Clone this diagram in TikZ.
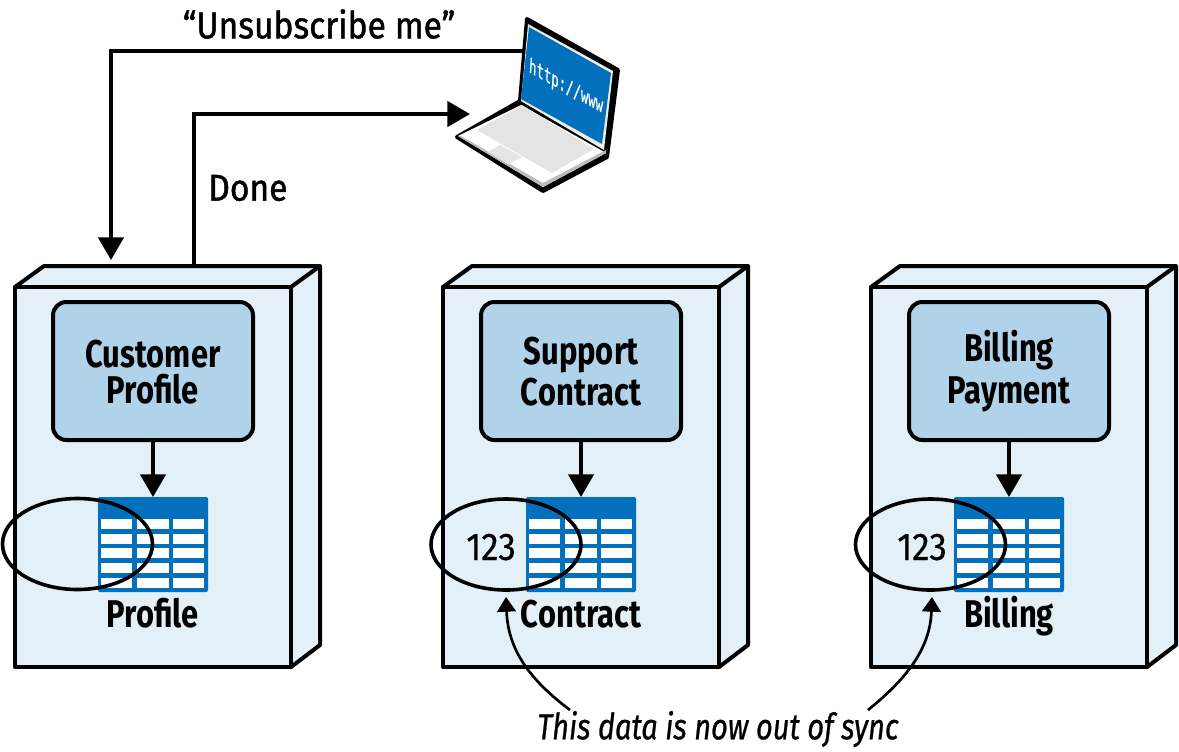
\documentclass[tikz,border=0pt]{standalone}
\usepackage{fontspec}
\setmainfont[FakeStretch=0.8]{Fira Sans}
\newfontfamily\medf[FakeStretch=0.9,FakeBold=1.2]{Fira Sans}
\newfontfamily\numf[FakeStretch=0.9,FakeBold=0.4]{Fira Sans}
\newfontfamily\notef[FakeStretch=0.8,FakeBold=0.7]{Fira Sans}
\newfontfamily\monof[FakeStretch=0.8,FakeBold=0.6]{DejaVu Sans Mono}
\newcommand{\svcstrut}{\rule[-3pt]{0pt}{27pt}}
\usetikzlibrary{arrows.meta,shapes.geometric}
\definecolor{boxfill}{HTML}{E3F0F8}
\definecolor{svcfill}{HTML}{B0D3EA}
\definecolor{tblblue}{HTML}{0270BC}
\definecolor{lapgrey}{HTML}{E4E4E4}
\tikzset{
  x=0.75pt,y=-0.75pt,
  edge/.style={draw=black,line width=3pt,line join=round},
  frontbox/.style={edge,fill=boxfill,minimum width=276*0.75pt,minimum height=380*0.75pt,inner sep=0pt,outer sep=0pt},
  svcbox/.style={edge,fill=svcfill,rounded corners=10pt,minimum width=200*0.75pt,minimum height=138*0.75pt,inner sep=0pt,outer sep=0pt,align=center,font=\fontsize{29pt}{27pt}\selectfont\bfseries},
  tblbox/.style={fill=tblblue,rounded corners=1pt,minimum width=110*0.75pt,minimum height=95*0.75pt,inner sep=0pt,outer sep=0pt},
  ring/.style={ellipse,draw=black,line width=2.7pt,minimum width=150*0.75pt,minimum height=91*0.75pt,inner sep=0pt,outer sep=0pt},
  lab/.style={inner sep=0pt,anchor=base,font=\fontsize{29pt}{30pt}\selectfont\bfseries},
  num/.style={inner sep=0pt,anchor=base,font=\numf\fontsize{29pt}{30pt}\selectfont},
  say/.style={inner sep=0pt,font=\medf\fontsize{28pt}{30pt}\selectfont},
  link/.style={line width=2.6pt,-{Triangle[length=17pt,width=19pt]}},
  note/.style={line width=2pt,-{Triangle[length=11pt,width=14pt]}},
}
\begin{document}
\begin{tikzpicture}
\useasboundingbox (0,0) rectangle (1179,751);
\foreach \n/\o/\sa/\sb/\tname in {A/0/Customer/Profile/Profile,B/428/Support/Contract/Contract,C/856/Billing/Payment/Billing}{
  \begin{scope}[shift={(\o,0)}]
    \draw[edge,fill=boxfill] (15,287) -- (44,266) -- (320,266) -- (320,645) -- (291,667) -- cycle;
    \draw[edge] (291,287) -- (320,266);
    \node[frontbox] (box\n) at (153,477) {};
    \node[svcbox] (svc\n) at (153,371) {\svcstrut\sa\\\svcstrut\sb};
    \node[tblbox] (tbl\n) at (153,544.5) {};
    \foreach \cx/\cw in {101/31,137/32,173/31}{
      \foreach \cy in {519,534,548,563,578}{
        \fill[white] (\cx,\cy) rectangle +(\cw,10);
      }
    }
    \draw[link] (svc\n.south) -- (tbl\n.north);
    \node[lab] (lab\n) at (153,627) {\tname};
  \end{scope}
}
\node[ring] (ringA) at (77.5,544) {};
\node[ring] (ringB) at (506,544.5) {};
\node[ring] (ringC) at (930.5,544.5) {};
\node[num] (numB) at (491,560) {123};
\node[num] (numC) at (922,560) {123};
% laptop
\fill[black,line join=round,draw=black,line width=3pt] (527,19) -- (618,70) -- (607,157) -- (543,191) -- (457,137) -- (520,101) -- cycle;
\fill[lapgrey!70] (528,24) -- (613,71) -- (604,150) -- (521,101) -- cycle;
\fill[tblblue] (529,27) -- (611,73) -- (602,144) -- (521,99) -- cycle;
\fill[white] (521,105) -- (606,153) -- (543,187) -- (458,136) -- cycle;
\fill[lapgrey!60!gray] (458,136) -- (543,187) -- (606,153) -- (606,150) -- (543,183) -- (461,136) -- cycle;
\fill[lapgrey] (477,130) -- (522,105) -- (594,149) -- (552,173) -- cycle;
\fill[lapgrey] (488,152) -- (500,145) -- (522,157) -- (508,164) -- cycle;
\begin{scope}[shift={(566,87)}]
  \node[cm={.92,-.51,.07,1.2,(0,0)},transform shape,text=white,inner sep=0pt,font=\monof\fontsize{12.5pt}{13pt}\selectfont] (url) at (0,0) {http://www};
\end{scope}
\coordinate (lapOut) at (524,51);
\coordinate (lapIn) at (470,114);
\coordinate (boxInA) at (111,260);
\coordinate (boxOutA) at (194,266);
\draw[link] (lapOut) -| (boxInA);
\draw[link] (boxOutA) |- (lapIn);
\node[say] (unsub) at (319,24) {“Unsubscribe me”};
\node[say,anchor=west] (done) at (208,188) {Done};
\node[inner sep=0pt,font=\notef\fontsize{27.2pt}{28pt}\selectfont\itshape] (sync) at (718,729) {This data is now out of sync};
\coordinate (sl) at (570,710);
\coordinate (sr) at (868,710);
\coordinate (tl) at (506,597);
\coordinate (tr) at (932,597);
\draw[note] (sl) .. controls (530,680) and (508,650) .. (tl);
\draw[note] (sr) .. controls (905,680) and (930,650) .. (tr);
\end{tikzpicture}
\end{document}
